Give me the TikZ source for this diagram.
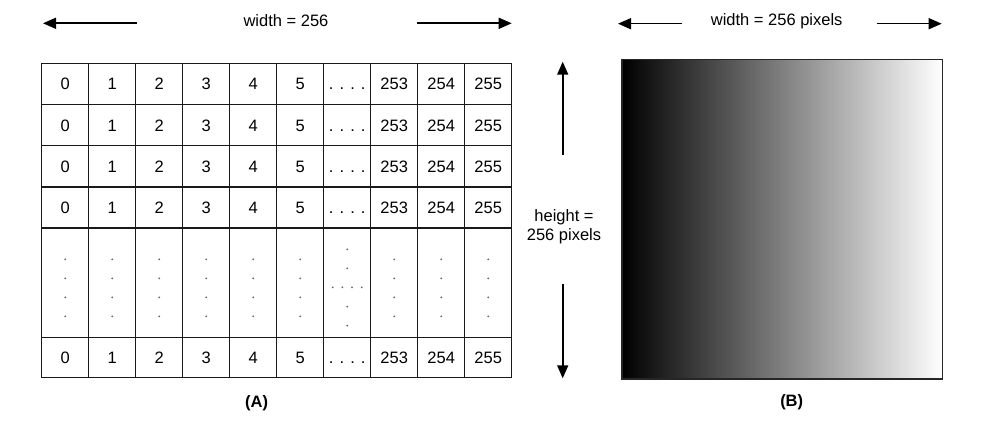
\documentclass[tikz,border=0pt]{standalone}
\usepackage{fontspec}
\setmainfont{Liberation Sans}
\usetikzlibrary{arrows.meta}
\newcommand\rowdots{. . . .}
\tikzset{
  gridline/.style={line width=1.5pt, draw=black!90},
  dimarrow/.style={line width=1.6pt, -{Triangle[length=13pt,width=11pt]}},
  celltext/.style={inner sep=0pt, anchor=base},
  pdot/.style={fill=black!60, draw=none},
  caption/.style={font=\fontsize{16.5}{19}\selectfont\bfseries}
}
\begin{document}
\begin{tikzpicture}[x=1pt,y=-1pt,font=\fontsize{16.5}{19}\selectfont]
\useasboundingbox (0,0) rectangle (999,433);
\fill[white] (0,0) rectangle (999,433);
% ---------- (A) grid ----------
\draw[gridline] (41.7,63.3) rectangle (511.7,377.7);
\foreach \i in {1,...,9} \draw[gridline] ({41.7+47*\i},63.3) -- ({41.7+47*\i},377.7);
\foreach \y in {104.5,145.7,186.8,227.8,337.7} \draw[gridline] (41.7,\y) -- (511.7,\y);
\foreach \r/\y in {1/90,2/131.2,3/172.3,4/213.3,6/363.7}{
  \foreach \lab [count=\c] in {0,1,2,3,4,5,\rowdots,253,254,255}{
    \node[celltext] (c-\r-\c) at ({41.7+47*(\c-0.5)},\y) {\lab};
  }
}
% dotted row
\foreach \c in {1,2,3,4,5,6,8,9,10}{
  \foreach \y in {259.3,278.3,297.3,316.3}
    \fill[pdot] ({41.7+47*(\c-0.5)},\y) circle (1pt);
}
\foreach \y in {249.3,268.3,306.7,325.7}
  \fill[pdot] (347.2,\y) circle (1pt);
\foreach \x in {332.7,342.4,352,361.7}
  \fill[pdot] (\x,287.3) circle (1pt);
% width label (A)
\node (wA) at (286,21) {width = 256};
\coordinate (wAl0) at (136.7,23.3);
\coordinate (wAl1) at (43,23.3);
\coordinate (wAr0) at (416.7,23.3);
\coordinate (wAr1) at (511.7,23.3);
\draw[dimarrow] (wAl0) -- (wAl1);
\draw[dimarrow] (wAr0) -- (wAr1);
\node[caption] (capA) at (256.7,403) {(A)};
% ---------- (B) image ----------
\node[draw=black!85, line width=1.5pt, left color=black, middle color=black!57, right color=white,
      minimum width=320.7pt, minimum height=319.3pt, inner sep=0pt, anchor=north west] (img) at (621,59) {};
\node (wB) at (776.7,21) {width = 256 pixels};
\coordinate (wBl0) at (682,23.7);
\coordinate (wBl1) at (618,23.7);
\coordinate (wBr0) at (877,23.7);
\coordinate (wBr1) at (941.7,23.7);
\draw[dimarrow] (wBl0) -- (wBl1);
\draw[dimarrow] (wBr0) -- (wBr1);
\node[align=center, inner sep=0pt, font=\fontsize{16.5}{19.5}\selectfont] (hB) at (564,226.5) {height =\\256 pixels};
\coordinate (hBu0) at (562.7,155);
\coordinate (hBu1) at (562.7,61.7);
\coordinate (hBd0) at (562.7,284);
\coordinate (hBd1) at (562.7,378.3);
\draw[dimarrow] (hBu0) -- (hBu1);
\draw[dimarrow] (hBd0) -- (hBd1);
\node[caption] (capB) at (791.7,402) {(B)};
\end{tikzpicture}
\end{document}
